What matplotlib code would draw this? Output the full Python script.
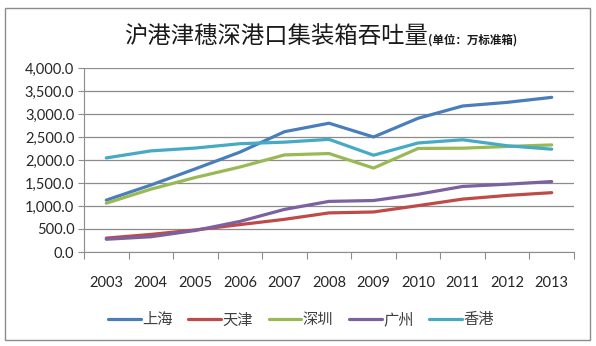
import matplotlib
matplotlib.use("Agg")
import matplotlib.pyplot as plt
from matplotlib.patches import Rectangle
from matplotlib.ticker import FuncFormatter, MultipleLocator

plt.rcParams['font.family'] = ['Lato', 'Noto Sans CJK SC', 'DejaVu Sans']

# 港口集装箱吞吐量（万标准箱）
years = [2003, 2004, 2005, 2006, 2007, 2008, 2009, 2010, 2011, 2012, 2013]
shanghai = [1128, 1455, 1808, 2171, 2615, 2800, 2500, 2907, 3174, 3253, 3362]
tianjin = [302, 382, 480, 595, 710, 850, 870, 1008, 1150, 1230, 1290]
shenzhen = [1061, 1366, 1620, 1847, 2110, 2141, 1825, 2251, 2257, 2294, 2328]
guangzhou = [277, 331, 468, 665, 926, 1100, 1119, 1255, 1425, 1474, 1531]
hongkong = [2045, 2198, 2260, 2354, 2388, 2449, 2104, 2370, 2440, 2310, 2235]

series_names = ['上海', '天津', '深圳', '广州', '香港']
series_values = [shanghai, tianjin, shenzhen, guangzhou, hongkong]
colors = ['#4A7EBB', '#BE4B48', '#98B954', '#7D60A0', '#46AAC5']

fig = plt.figure(figsize=(5.96, 3.46), dpi=100)
fig.patches.append(Rectangle((5 / 596, 6 / 346), 585 / 596, 332 / 346,
                             transform=fig.transFigure, fill=False,
                             edgecolor='#8c8c8c', linewidth=1.0))

ax = fig.add_axes([84 / 596, 1 - 252 / 346, 490 / 596, 184 / 346])
x = list(range(len(years)))
for name, vals, c in zip(series_names, series_values, colors):
    ax.plot(x, vals, color=c, linewidth=2.3, label=name, solid_capstyle='round')

ax.set_xlim(-0.5, len(years) - 0.5)
ax.set_ylim(0, 4000)
ax.yaxis.set_major_locator(MultipleLocator(500))
ax.yaxis.set_major_formatter(FuncFormatter(lambda v, p: f'{v:,.1f}'))
ax.grid(axis='y', color='#8c8c8c', linewidth=0.9)
ax.set_axisbelow(True)

ax.set_xticks([i - 0.5 for i in range(len(years) + 1)])
ax.set_xticklabels([])
ax.set_xticks(x, minor=True)
ax.set_xticklabels([str(y) for y in years], minor=True)
ax.tick_params(axis='x', which='major', length=5, color='#8c8c8c', direction='out')
ax.tick_params(axis='x', which='minor', length=0, pad=17, labelsize=10.5, labelcolor='#262626')
ax.tick_params(axis='y', length=4, color='#8c8c8c', labelsize=10.5, pad=3, labelcolor='#262626')

for s in ['top', 'right']:
    ax.spines[s].set_visible(False)
for s in ['left', 'bottom']:
    ax.spines[s].set_color('#8c8c8c')

fig.text(428 / 596, 1 - 44 / 346, '沪港津穗深港口集装箱吞吐量', ha='right', va='baseline',
         fontsize=16.8, family=['Noto Sans CJK SC'], color='#1a1a1a')
fig.text(428 / 596, 1 - 44 / 346, '(单位：万标准箱)', ha='left', va='baseline',
         fontsize=8.3, fontweight='bold', family=['Noto Sans CJK SC'], color='#1a1a1a')

leg = fig.legend(loc='center', bbox_to_anchor=(0.505, 1 - 320 / 346), ncol=5, frameon=False,
                 fontsize=11, handlelength=2.15, columnspacing=1.0, handletextpad=0.1)
for t in leg.get_texts():
    t.set_color('#404040')

fig.savefig('out.png', dpi=100)
